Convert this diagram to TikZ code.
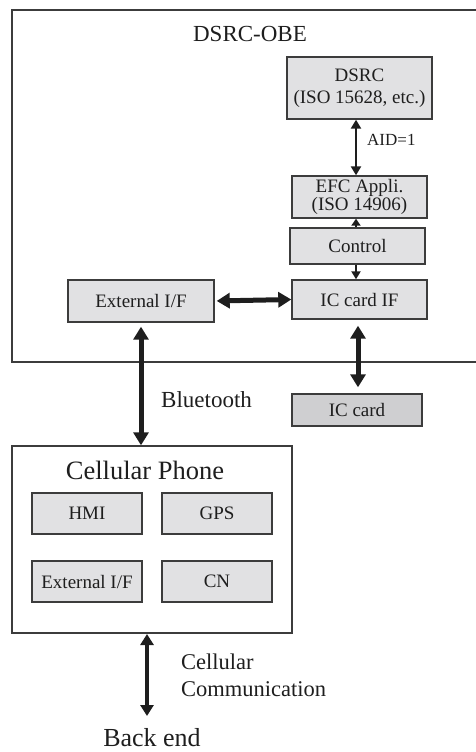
\documentclass[tikz,border=0pt]{standalone}
\usepackage{fontspec}
\setmainfont{Liberation Serif}
\usetikzlibrary{arrows.meta}
\definecolor{boxfill}{HTML}{E1E1E3}
\definecolor{cardfill}{HTML}{CFCFD1}
\definecolor{edge}{HTML}{3C3C3C}
\definecolor{ink}{HTML}{1E1E1E}
\tikzset{
  blk/.style={draw=edge, line width=1.4pt, fill=boxfill, text=ink, inner sep=0pt, align=center, font=\fontsize{19}{17}\selectfont},
  frame/.style={draw=edge, line width=1.4pt},
  lbl/.style={text=ink, inner sep=0pt},
  thin/.style={draw=ink, line width=2.2pt, {Triangle[length=9pt,width=10pt]}-{Triangle[length=9pt,width=10pt]}},
  thick/.style={draw=ink, line width=5pt, {Triangle[length=13pt,width=15pt]}-{Triangle[length=13pt,width=15pt]}},
  mid/.style={draw=ink, line width=4pt, {Triangle[length=11pt,width=13pt]}-{Triangle[length=11pt,width=13pt]}}
}
\begin{document}
\begin{tikzpicture}[x=1pt,y=-1pt]
\useasboundingbox (0,0) rectangle (476,752);
% DSRC-OBE outer frame (right edge beyond picture)
\draw[frame] (478,10) -- (12,10) -- (12,362) -- (478,362);
\node[lbl, font=\fontsize{23}{23}\selectfont] (obe) at (250,34) {DSRC-OBE};
\node[blk, minimum width=145pt, minimum height=62pt, font=\fontsize{19}{22}\selectfont] (dsrc) at (359.5,88) {DSRC\\(ISO 15628, etc.)};
\node[blk, minimum width=135pt, minimum height=42pt, font=\fontsize{19}{16.5}\selectfont] (efc) at (359.5,197) {EFC Appli.\\(ISO 14906)};
\node[blk, minimum width=135pt, minimum height=36pt] (ctrl) at (357.5,246) {Control};
\node[blk, minimum width=135pt, minimum height=39pt] (icif) at (359.5,299.5) {IC card IF};
\node[blk, minimum width=146pt, minimum height=42pt] (ext) at (141,301) {External I/F};
\node[blk, fill=cardfill, minimum width=130pt, minimum height=32pt] (card) at (357,410) {IC card};
% cellular phone
\node[frame, minimum width=280pt, minimum height=187pt, inner sep=0pt] (phone) at (152,539.5) {};
\node[lbl, font=\fontsize{26.5}{26}\selectfont] (ptitle) at (145,470) {Cellular Phone};
\node[blk, minimum width=110pt, minimum height=41pt] (hmi) at (87,513.5) {HMI};
\node[blk, minimum width=110pt, minimum height=41pt] (gps) at (217,513.5) {GPS};
\node[blk, minimum width=110pt, minimum height=41pt] (ext2) at (87,581.5) {External I/F};
\node[blk, minimum width=110pt, minimum height=41pt] (cn) at (217,581.5) {CN};
% labels
\node[lbl, anchor=west, font=\fontsize{17}{17}\selectfont] (aid) at (367,140) {AID=1};
\node[lbl, anchor=west, font=\fontsize{23}{23}\selectfont] (bt) at (161,400) {Bluetooth};
\node[lbl, anchor=north west, align=left, font=\fontsize{22.5}{27}\selectfont] (cc) at (181,654) {Cellular\\Communication};
\node[lbl, font=\fontsize{26}{26}\selectfont] (back) at (152,738) {Back end};
% connectors
\draw[thin] (dsrc.south -| 356,0) -- (efc.north -| 356,0);
\draw[draw=ink, line width=2.2pt, -{Triangle[length=7pt,width=9pt]}] (ctrl.north -| 356,0) -- (efc.south -| 356,0);
\draw[draw=ink, line width=2.2pt, -{Triangle[length=8pt,width=9pt]}] (ctrl.south -| 356,0) -- (icif.north -| 356,0);
\draw[thick, shorten <=2pt] (ext.east) -- (icif.west);
\draw[thick, shorten <=4pt] (ext.south) -- (phone.north -| ext.south);
\draw[thick, shorten <=6pt, shorten >=6pt] (icif.south -| 358,0) -- (card.north -| 358,0);
\coordinate (cp) at (147,633);
\coordinate (be) at (147,716);
\draw[mid, shorten <=1pt] (cp) -- (be);
\end{tikzpicture}
\end{document}
